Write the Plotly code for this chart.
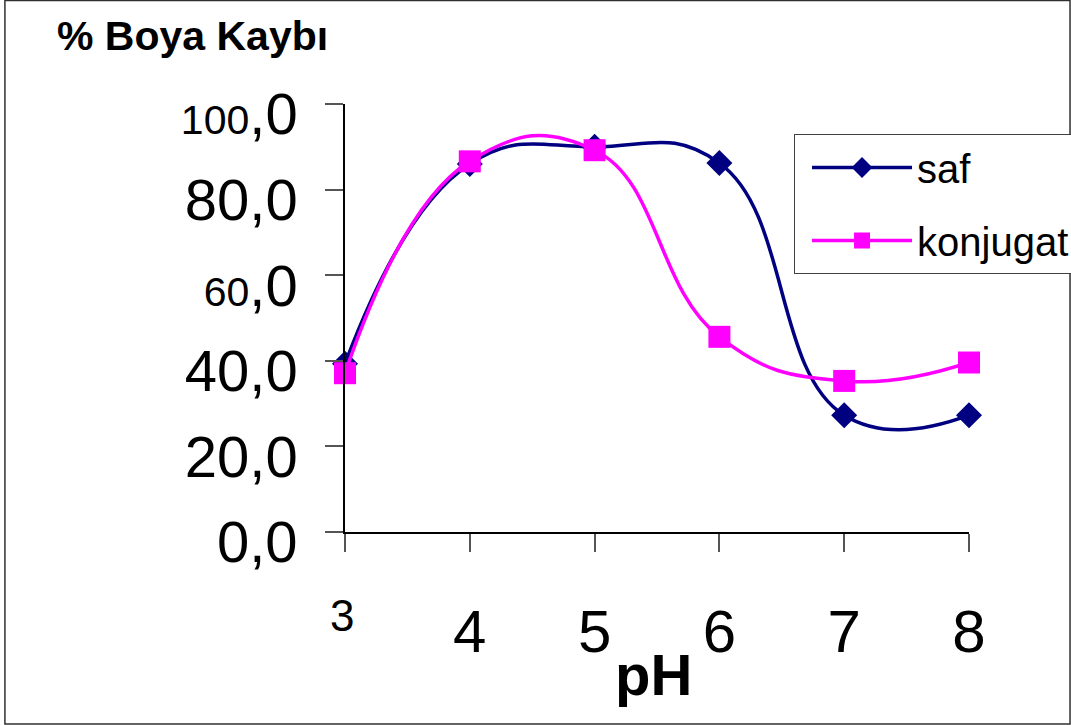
import plotly.graph_objects as go

# pH values and dye loss (%) for the two samples
ph = [3, 4, 5, 6, 7, 8]
saf = [39.3, 86.0, 90.0, 86.2, 27.3, 27.3]
konjugat = [37.1, 86.6, 89.2, 45.6, 35.3, 39.6]

y_ticks = [0, 20, 40, 60, 80, 100]
y_ticktext = [
    "0,0",
    "20,0",
    "40,0",
    "<span style='font-size:41px'>60</span>,0",
    "80,0",
    "<span style='font-size:41px'>100</span>,0",
]
x_ticktext = ["", "4", "5", "6", "7", "8"]

FONT = "Liberation Sans, Arial, sans-serif"

fig = go.Figure()
fig.add_trace(go.Scatter(
    x=ph, y=saf, name="saf", mode="lines+markers",
    line=dict(color="#000080", width=3.5, shape="spline", smoothing=1.3),
    marker=dict(symbol="diamond", size=20, color="#000080"),
    cliponaxis=False, legendgroup="a",
))
fig.add_trace(go.Scatter(
    x=ph, y=konjugat, name="konjugat", mode="lines+markers",
    line=dict(color="#FF00FF", width=3.5, shape="spline", smoothing=1.3),
    marker=dict(symbol="square", size=22, color="#FF00FF"),
    cliponaxis=False, legendgroup="b",
))

fig.update_layout(
    width=1071, height=725,
    margin=dict(l=345, r=102, t=104, b=193, autoexpand=False),
    paper_bgcolor="white", plot_bgcolor="white",
    font=dict(family=FONT, color="black"),
    showlegend=True,
    legend=dict(
        x=0.7196, y=0.9299, xanchor="left", yanchor="top",
        bordercolor="#404040", borderwidth=1, bgcolor="white",
        font=dict(size=40, family=FONT),
        itemwidth=100, tracegroupgap=18, traceorder="grouped",
        indentation=12,
    ),
    xaxis=dict(
        range=[3, 8], tickmode="array", tickvals=ph, ticktext=x_ticktext,
        showgrid=False, zeroline=False, showline=True, linecolor="black", linewidth=1.5,
        ticks="outside", ticklen=18, tickwidth=1.5, tickcolor="#555555",
        tickfont=dict(size=60, family=FONT), ticklabelstandoff=28,
    ),
    yaxis=dict(
        range=[0, 100], tickmode="array", tickvals=y_ticks, ticktext=y_ticktext,
        showgrid=False, zeroline=False, showline=True, linecolor="black", linewidth=1.5,
        ticks="outside", ticklen=18, tickwidth=1.5, tickcolor="#555555",
        tickfont=dict(size=58, family=FONT), ticklabelstandoff=16, ticklabelshift=10,
    ),
    annotations=[
        dict(text="<b>% Boya Kaybı</b>", xref="paper", yref="paper",
             x=-0.2436, y=1.1589, xanchor="center", yanchor="middle",
             showarrow=False, font=dict(size=41, family=FONT)),
        dict(text="<b>pH</b>", xref="paper", yref="paper",
             x=0.4936, y=-0.334, xanchor="center", yanchor="middle",
             showarrow=False, font=dict(size=58, family=FONT)),
        dict(text="3", xref="x", yref="paper", x=ph[0], xshift=-3,
             y=-0.196, xanchor="center", yanchor="middle",
             showarrow=False, font=dict(size=44, family=FONT)),
    ],
    shapes=[
        dict(type="rect", xref="paper", yref="paper",
             x0=-0.545, x1=1.1619, y0=-0.4486, y1=1.2418,
             line=dict(color="#303030", width=1.5), layer="below"),
    ],
)

fig.write_html("out.html")
